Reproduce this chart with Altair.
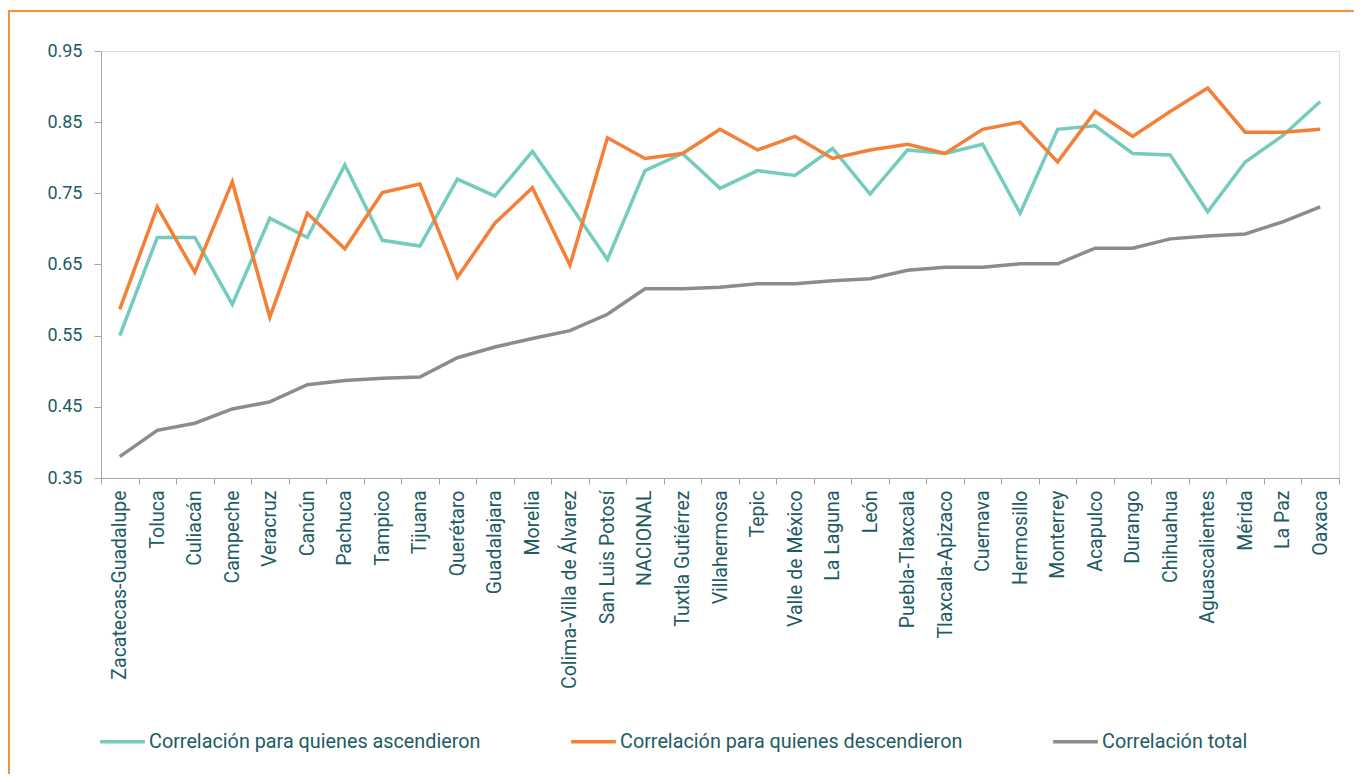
import altair as alt
import pandas as pd

cities = ["Zacatecas-Guadalupe", "Toluca", "Culiacán", "Campeche", "Veracruz", "Cancún",
          "Pachuca", "Tampico", "Tijuana", "Querétaro", "Guadalajara", "Morelia",
          "Colima-Villa de Álvarez", "San Luis Potosí", "NACIONAL", "Tuxtla Gutiérrez",
          "Villahermosa", "Tepic", "Valle de México", "La Laguna", "León", "Puebla-Tlaxcala",
          "Tlaxcala-Apizaco", "Cuernava", "Hermosillo", "Monterrey", "Acapulco", "Durango",
          "Chihuahua", "Aguascalientes", "Mérida", "La Paz", "Oaxaca"]

ascendieron = [0.550, 0.688, 0.688, 0.594, 0.715, 0.688, 0.790, 0.684, 0.676, 0.770,
               0.746, 0.809, 0.734, 0.657, 0.782, 0.806, 0.757, 0.782, 0.775, 0.813,
               0.749, 0.811, 0.806, 0.819, 0.722, 0.840, 0.845, 0.806, 0.804, 0.724,
               0.794, 0.831, 0.879]

descendieron = [0.587, 0.731, 0.639, 0.766, 0.576, 0.722, 0.672, 0.751, 0.763, 0.632,
                0.708, 0.758, 0.649, 0.828, 0.799, 0.806, 0.840, 0.811, 0.830, 0.799,
                0.811, 0.819, 0.806, 0.840, 0.850, 0.794, 0.865, 0.830, 0.865, 0.898,
                0.836, 0.836, 0.840]

total = [0.380, 0.417, 0.427, 0.447, 0.457, 0.481, 0.487, 0.490, 0.492, 0.519,
         0.534, 0.546, 0.557, 0.580, 0.616, 0.616, 0.618, 0.623, 0.623, 0.627,
         0.630, 0.642, 0.646, 0.646, 0.651, 0.651, 0.673, 0.673, 0.686, 0.690,
         0.693, 0.710, 0.731]

series_names = ["Correlación para quienes ascendieron",
                "Correlación para quienes descendieron",
                "Correlación total"]
series_colors = ["#74CCBE", "#F47F36", "#8C8C8C"]
y_ticks = [0.35, 0.45, 0.55, 0.65, 0.75, 0.85, 0.95]

rows = []
for name, vals in zip(series_names, [ascendieron, descendieron, total]):
    for c, v in zip(cities, vals):
        rows.append({"Ciudad": c, "Serie": name, "Valor": v})
df = pd.DataFrame(rows)

TEXT = "#1E5C64"
AXIS = "#A6A6A6"

lines = alt.Chart(df).mark_line(strokeWidth=3.5).encode(
    x=alt.X("Ciudad:N", sort=cities, bandPosition=0.5,
            scale=alt.Scale(type="band", paddingInner=0, paddingOuter=0),
            axis=alt.Axis(title=None, labelAngle=-90, labelFontSize=19.5,
                          labelFont="Roboto", labelColor=TEXT, tickBand="extent",
                          tickSize=6, tickColor=AXIS, domainColor=AXIS,
                          labelPadding=6, grid=False, labelLimit=0)),
    y=alt.Y("Valor:Q",
            scale=alt.Scale(domain=[0.35, 0.95], zero=False, nice=False),
            axis=alt.Axis(title=None, values=y_ticks, format=".2f", labelFontSize=18,
                          labelFont="Roboto", labelColor=TEXT, tickSize=7,
                          tickColor=AXIS, domainColor=AXIS, labelPadding=12,
                          grid=False)),
    color=alt.Color("Serie:N", sort=series_names,
                    scale=alt.Scale(domain=series_names, range=series_colors),
                    legend=alt.Legend(title=None, orient="none", direction="horizontal",
                                      legendX=-3, legendY=666, symbolType="stroke",
                                      symbolSize=2000, symbolStrokeWidth=3.5,
                                      labelFontSize=19.8, labelFont="Roboto",
                                      labelColor=TEXT, columnPadding=83,
                                      labelOffset=2, padding=0, labelLimit=0)),
    order=alt.value(0)
)

frame_df = pd.DataFrame({"k": [0]})
frame_left = alt.Chart(frame_df).mark_rule(color="#F7913A", strokeWidth=2).encode(
    x=alt.value(-92), y=alt.value(-40), y2=alt.value(740))
frame_top = alt.Chart(frame_df).mark_rule(color="#F7913A", strokeWidth=2).encode(
    x=alt.value(-93), x2=alt.value(1300), y=alt.value(-40))

chart = alt.layer(lines, frame_left, frame_top).properties(
    width=1238, height=427,
    autosize=alt.AutoSizeParams(type="none"),
    padding={"left": 93, "top": 43, "right": 15, "bottom": 296},
).configure_view(strokeWidth=0).configure(background="white")

chart.save("out.html", embed_options={"renderer": "svg", "actions": False})
